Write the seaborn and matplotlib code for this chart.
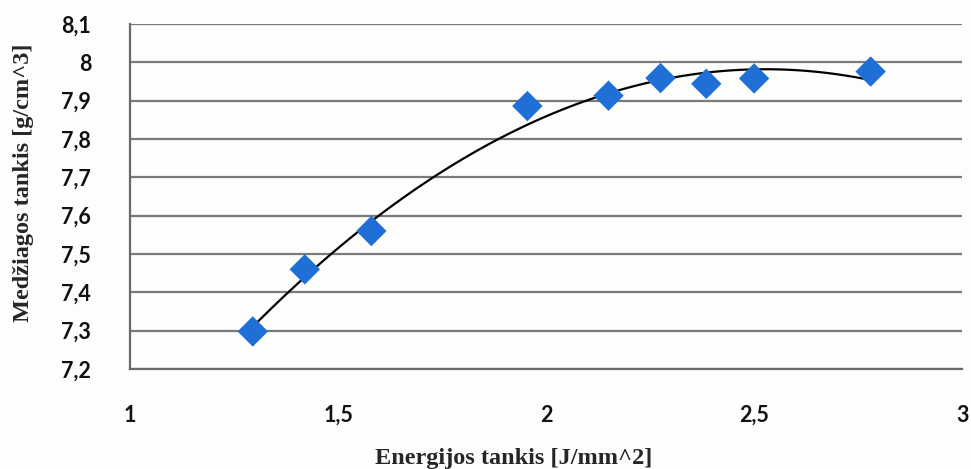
import matplotlib
matplotlib.use("Agg")
import matplotlib.pyplot as plt
import seaborn as sns
import pandas as pd
import numpy as np
from matplotlib.ticker import FuncFormatter

energy = [1.295, 1.42, 1.58, 1.955, 2.15, 2.275, 2.385, 2.50, 2.78]
density = [7.298, 7.460, 7.560, 7.886, 7.913, 7.959, 7.944, 7.958, 7.976]
x_ticks = [1, 1.5, 2, 2.5, 3]
y_ticks = [7.2, 7.3, 7.4, 7.5, 7.6, 7.7, 7.8, 7.9, 8.0, 8.1]
x_label = "Energijos tankis [J/mm^2]"
y_label = "Medžiagos tankis [g/cm^3]"

df = pd.DataFrame({"x": energy, "y": density})

sns.set_theme(style="white")
fig = plt.figure(figsize=(9.71, 4.69), dpi=100)
fig.patch.set_facecolor("#fdfdfb")
ax = fig.add_axes([0.1339, 0.2132, 0.857, 0.7356])
ax.set_facecolor("#fdfdfb")

sns.regplot(data=df, x="x", y="y", order=2, ci=None, truncate=True,
            scatter=False, ax=ax, line_kws=dict(color="black", lw=1.6, zorder=3))
sns.scatterplot(data=df, x="x", y="y", marker="D", s=240, color="#1f6fd6",
                edgecolor="none", ax=ax, zorder=4)

ax.set_xlim(1, 3)
ax.set_ylim(7.2, 8.1)
ax.set_xticks(x_ticks)
ax.set_yticks(y_ticks)
fmt = FuncFormatter(lambda v, p: (f"{v:g}").replace(".", ","))
ax.xaxis.set_major_formatter(fmt)
ax.yaxis.set_major_formatter(fmt)
ax.yaxis.grid(True, color="#7a7a7a", lw=1.6)
ax.xaxis.grid(False)
ax.set_axisbelow(True)
for s in ["top", "right"]:
    ax.spines[s].set_visible(False)
for s in ["left", "bottom"]:
    ax.spines[s].set_color("#6a6a6a")
    ax.spines[s].set_linewidth(1.6)
ax.tick_params(axis="both", length=0, labelsize=15.5, colors="#111111")
ax.tick_params(axis="y", pad=28)
ax.tick_params(axis="x", pad=26)
for lab in ax.get_xticklabels() + ax.get_yticklabels():
    lab.set_fontfamily("Lato")
    lab.set_fontweight("bold")

ax.set_xlabel("")
ax.set_ylabel("")
fig.text(0.529, 0.022, x_label, ha="center", va="center",
         fontfamily="Liberation Serif", fontweight="bold", fontsize=17.5)
fig.text(0.024, 0.61, y_label, ha="center", va="center", rotation=90,
         fontfamily="Liberation Serif", fontweight="bold", fontsize=17.5)

fig.savefig("out.png", dpi=100, facecolor=fig.get_facecolor())
